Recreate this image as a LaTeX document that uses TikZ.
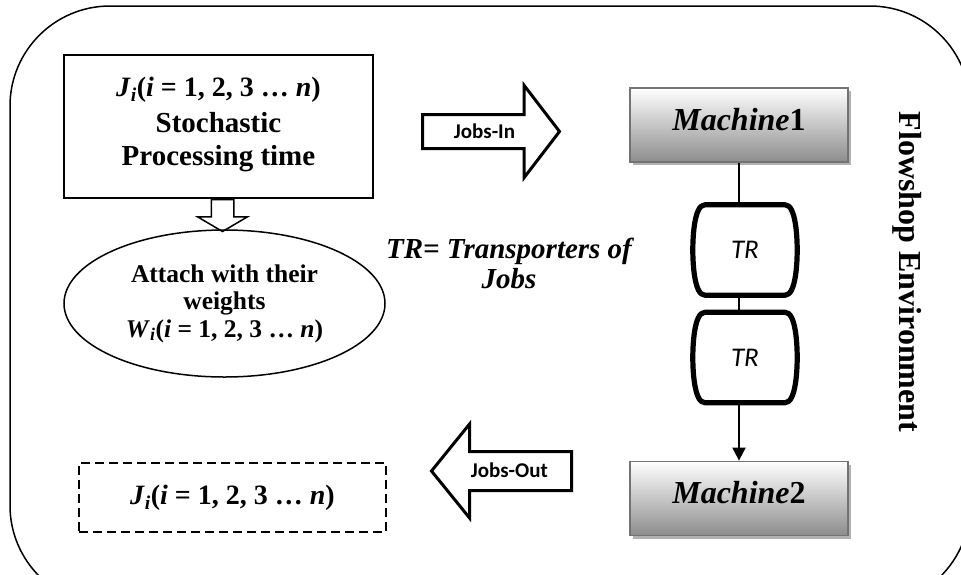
\documentclass[tikz,border=0pt]{standalone}
\usepackage{fontspec}
\setmainfont{Liberation Serif}
\newfontfamily\calibri{Carlito}
\usepackage{tikz}
\usetikzlibrary{shapes, shadows, arrows.meta, positioning}

\tikzset{
  jobbox/.style={draw, line width=1.5pt, minimum width=309pt, minimum height=143pt,
    align=center, font=\fontsize{29}{33}\selectfont\bfseries},
  weightell/.style={draw, ellipse, line width=1.5pt, minimum width=321pt, minimum height=147pt,
    inner sep=0pt, align=center, font=\fontsize{25.5}{27.5}\selectfont\bfseries},
  outbox/.style={draw, dash pattern=on 9pt off 5pt, line width=1.8pt, minimum width=307pt,
    minimum height=69pt, font=\fontsize{28}{33}\selectfont\bfseries},
  machine/.style={draw=black!55, line width=1.8pt, top color=white, bottom color=black!45,
    minimum width=218pt, minimum height=74pt, text depth=12pt, font=\fontsize{32}{33}\selectfont\bfseries,
    drop shadow={shadow xshift=3pt, shadow yshift=-3pt, fill=black!30, opacity=1}},
  trbox/.style={minimum width=104pt, minimum height=90pt, font=\fontsize{27}{30}\selectfont\calibri\itshape},
  trline/.style={line width=5.2pt, line join=round, looseness=0.6},
  jobarrow/.style={draw, single arrow, line width=3pt, inner xsep=0pt, inner ysep=0pt,
    font=\fontsize{21}{24}\selectfont\calibri\bfseries},
}

\begin{document}
\begin{tikzpicture}[x=1pt, y=-1pt]
  \useasboundingbox (0,0) rectangle (961,574);
  \clip (0,0) rectangle (961,574);
  % frame of the environment
  \draw[line width=1.5pt, rounded corners=100pt] (10,6) rectangle (970,605.5);

  % jobs side
  \node[jobbox] (jobs) at (218.5,126.5)
    {{\fontsize{28}{33}\selectfont\textit{J}\textsubscript{\textit{i}}(\textit{i} = 1, 2, 3 … \textit{n})}\\[3pt]Stochastic\\Processing time\\[-22pt]\mbox{}};
  \node[weightell] (wts) at (224.5,303.5)
    {Attach with their\\weights\\\textit{W}\textsubscript{\textit{i}}(\textit{i} = 1, 2, 3 … \textit{n})};
  \node[draw, single arrow, line width=1.5pt, rotate=-90, anchor=tail, minimum height=32pt,
    inner sep=0pt, text height=10.5pt, text depth=10.5pt, single arrow head extend=13.5pt,
    single arrow tip angle=119] (down) at ([xshift=4pt]jobs.south) {};
  \node[outbox] (done) at (232.5,497.5) {\textit{J}\textsubscript{\textit{i}}(\textit{i} = 1, 2, 3 … \textit{n})};

  \node[jobarrow, anchor=tail, minimum height=137pt, text height=22pt, text depth=9pt,
    single arrow head extend=29pt, single arrow tip angle=105] (in) at (421,131.5) {Jobs-In};
  \node[jobarrow, shape border rotate=180, anchor=tail, minimum height=140pt, text height=24pt,
    text depth=12pt, single arrow head extend=27.5pt, single arrow tip angle=102] (out) at (573,471) {Jobs-Out};

  \node[align=center, font=\fontsize{29}{30}\selectfont\bfseries\itshape] (key) at (509,263) {TR= Transporters of\\Jobs};

  % machines
  \node[machine] (m1) at (739,125) {\textit{Machine}1};
  \node[machine] (m2) at (739,498.5) {\textit{Machine}2};
  \node[trbox] (tr1) at (745,250) {TR};
  \node[trbox] (tr2) at (745,357.5) {TR};
  \foreach \t in {tr1,tr2}
    \draw[trline] (\t.west) to[out=90,in=180] ([xshift=12pt]\t.north west) -- ([xshift=-12pt]\t.north east)
      to[out=0,in=90] (\t.east) to[out=-90,in=0] ([xshift=-12pt]\t.south east) -- ([xshift=12pt]\t.south west)
      to[out=180,in=-90] (\t.west) -- cycle;
  \draw[line width=1.6pt] (m1.south) -- (m1.south |- tr1.north);
  \draw[line width=1.6pt] (tr1.south -| m1.south) -- (m1.south |- tr2.north);
  \draw[line width=2pt, -{Triangle[width=13pt,length=13pt]}] (tr2.south -| m1.south) -- (m2);

  \node[rotate=-90, font=\fontsize{32}{36}\selectfont\bfseries] (env) at (907,272) {Flowshop Environment};
\end{tikzpicture}
\end{document}
